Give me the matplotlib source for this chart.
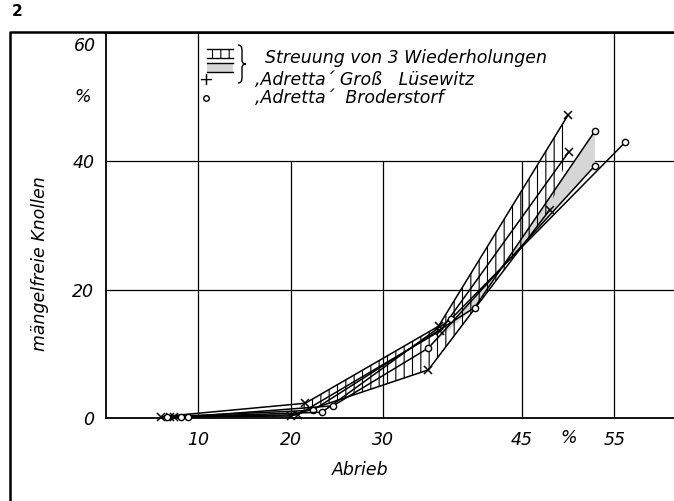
import matplotlib
matplotlib.use('Agg')
import matplotlib.pyplot as plt
from matplotlib.patches import Polygon, Rectangle, PathPatch
from matplotlib.path import Path
from matplotlib.lines import Line2D
import numpy as np

# ---------------- data ----------------
x_ticks = [10, 20, 30, 45, 55]
x_ticklabels = ['10', '20', '30', '45', '55']
y_ticks = [0, 20, 40]
y_ticklabels = ['0', '20', '40']

# 'Adretta' Groß Lüsewitz - 3 replications (x: Abrieb %, y: mängelfreie Knollen %)
gl_x = [[6.0, 21.6, 36.0, 50.0],
        [7.4, 20.8, 36.2, 50.1],
        [7.0, 20.0, 34.9, 48.0]]
gl_y = [[0.2, 2.3, 14.3, 47.2],
        [0.2, 0.5, 13.6, 41.5],
        [0.2, 0.3, 7.5, 32.4]]

# 'Adretta' Broderstorf - 3 replications
bd_x = [[6.6, 22.4, 39.9, 52.9],
        [8.2, 23.4, 37.4, 56.2],
        [8.9, 24.6, 34.9, 52.9]]
bd_y = [[0.2, 1.2, 17.2, 44.7],
        [0.2, 0.9, 15.5, 43.0],
        [0.2, 1.9, 10.9, 39.3]]

legend_texts = ['Streuung von 3 Wiederholungen',
                '\u201aAdretta\u00b4 Groß   Lüsewitz',
                '\u201aAdretta\u00b4  Broderstorf']

# ---------------- figure ----------------
plt.rcParams['font.family'] = ['DejaVu Sans']
plt.rcParams['hatch.linewidth'] = 0.8

W, H = 674, 501
X0, Y0, YTOP = 105.5, 418.0, 33.0
PX_X = 9.25
fig = plt.figure(figsize=(W / 100, H / 100), dpi=100)
ax = fig.add_axes([X0 / W, 1 - Y0 / H, (W - X0) / W, (Y0 - YTOP) / H])
xmax = (W - X0) / PX_X
ax.set_xlim(0, xmax)
ax.set_ylim(0, 60)

ax.spines['right'].set_visible(False)
for s in ['left', 'bottom', 'top']:
    ax.spines[s].set_linewidth(1.3)

FS = 12.5
ital = dict(fontstyle='italic', fontsize=FS, color='black')

# grid
ax.vlines([10, 55], 0, 60, color='black', lw=0.9, zorder=1)
ax.vlines([20, 30, 45], 0, 40, color='black', lw=0.9, zorder=1)
ax.hlines([20, 40], 0, xmax, color='black', lw=0.9, zorder=1)

# ticks
ax.set_xticks(x_ticks)
ax.set_xticklabels(x_ticklabels, **ital)
ax.set_yticks(y_ticks)
ax.set_yticklabels(y_ticklabels, **ital)
ax.tick_params(axis='both', length=0)
ax.tick_params(axis='x', pad=9.5)
ax.tick_params(axis='y', pad=8)
ax.annotate('%', xy=(50.1, 0), xycoords='data', xytext=(0, -20),
            textcoords='offset pixels', ha='center', va='center', **ital)
ax.annotate('%', xy=(0, 50), xycoords='data', xytext=(-15, 0),
            textcoords='offset pixels', ha='right', va='center', **ital)
ax.annotate('60', xy=(0, 60), xycoords='data', xytext=(-10, -13),
            textcoords='offset pixels', ha='right', va='center', **ital)

# spread areas
gl_poly = list(zip(gl_x[0][1:], gl_y[0][1:])) + [(gl_x[1][-1], gl_y[1][-1])] + \
    list(zip(gl_x[2][::-1][:-1], gl_y[2][::-1][:-1]))
ax.add_patch(Polygon(gl_poly, closed=True, facecolor='none', edgecolor='black',
                     hatch='||', linewidth=0, zorder=2))
bd_poly = list(zip(bd_x[0][2:], bd_y[0][2:])) + list(zip(bd_x[2][::-1][:2], bd_y[2][::-1][:2]))
ax.add_patch(Polygon(bd_poly, closed=True, facecolor='#d6d6d6', edgecolor='none',
                     linewidth=0, zorder=1.5))

# replication lines
for xs, ys in zip(gl_x, gl_y):
    ax.plot(xs, ys, color='black', lw=1.1, marker='x', ms=5.5, mew=1.1, zorder=4,
            clip_on=False)
for xs, ys in zip(bd_x, bd_y):
    ax.plot(xs, ys, color='black', lw=1.1, marker='o', ms=4.5, mew=1.0,
            mfc='white', zorder=4, clip_on=False)

# legend (inside axes, data coords)
def px2d(px, py):
    return (px - X0) / PX_X, (Y0 - py) / ((Y0 - YTOP) / 60)

x1, ya = px2d(207, 49)
x2, yb = px2d(233, 58)
ax.add_patch(Rectangle((x1, yb), x2 - x1, ya - yb, facecolor='none', edgecolor='black',
                       hatch='||', linewidth=0, zorder=3))
_, yc = px2d(0, 63)
_, yd = px2d(0, 72)
ax.add_patch(Rectangle((x1, yd), x2 - x1, yc - yd, facecolor='#d6d6d6',
                       edgecolor='none', zorder=3))
for py in [49, 58, 63, 72]:
    _, yy = px2d(0, py)
    ax.plot([x1, x2], [yy, yy], color='black', lw=1.0, zorder=3)

# brace
bpts_px = [(238, 45), (242, 45), (242, 50), (242, 60), (242, 60),
           (242, 64), (246, 64), (242, 64), (242, 68), (242, 68),
           (242, 78), (242, 83), (238, 83)]
bcodes = [Path.MOVETO, Path.CURVE3, Path.CURVE3, Path.LINETO, Path.LINETO,
          Path.CURVE3, Path.CURVE3, Path.CURVE3, Path.CURVE3, Path.LINETO,
          Path.LINETO, Path.CURVE3, Path.CURVE3]
bverts = [px2d(px, py) for px, py in bpts_px]
ax.add_patch(PathPatch(Path(bverts, bcodes), facecolor='none', edgecolor='black',
                       lw=1.0, zorder=3))

tx, ty = px2d(265, 58)
ax.text(tx, ty, legend_texts[0], ha='left', va='center', **ital)
sx, sy1 = px2d(206, 80)
_, sy2 = px2d(206, 98)
ax.text(sx, sy1, '+', ha='center', va='center', fontsize=13)
ax.plot([sx], [sy2], marker='o', ms=4, mfc='white', mec='black', mew=1.0)
lx, _ = px2d(255, 0)
ax.text(lx, sy1, legend_texts[1], ha='left', va='center', **ital)
ax.text(lx, sy2, legend_texts[2], ha='left', va='center', **ital)

# axis titles & decorations
fig.text(40 / W, 1 - 264 / H, 'mängelfreie Knollen', rotation=90,
         ha='center', va='center', **ital)
fig.text(360 / W, 1 - 470 / H, 'Abrieb', ha='center', va='center', **ital)
fig.text(12 / W, 1 - 12 / H, '2', ha='left', va='center', fontsize=11,
         fontweight='bold')
fig.add_artist(Line2D([10 / W, 10 / W, 1.0], [0.0, 1 - 32 / H, 1 - 32 / H],
                      transform=fig.transFigure, color='black', lw=1.8))

fig.savefig('out.png', dpi=100)
